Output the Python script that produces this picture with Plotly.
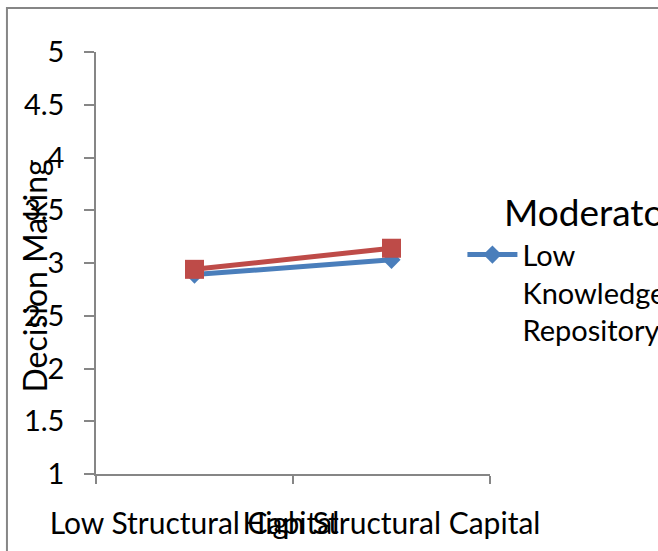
import plotly.graph_objects as go

# Interaction plot: Decision Making by Structural Capital, moderated by Knowledge Repository
categories = ["Low Structural Capital", "High Structural Capital"]
low_repo = [2.89, 3.03]
high_repo = [2.94, 3.14]
series_names = ["Low<br>Knowledge<br>Repository", "High<br>Knowledge<br>Repository"]
legend_title = "Moderator"
y_title = "Decision Making"

FONT = "Lato"
AXIS_GREY = "#868686"
BLUE = "#4A7EBB"
RED = "#BE4B48"

fig = go.Figure()
fig.add_trace(go.Scatter(
    x=categories, y=low_repo, name=series_names[0], mode="lines+markers",
    line=dict(color=BLUE, width=5),
    marker=dict(symbol="diamond", size=14, color=BLUE),
))
fig.add_trace(go.Scatter(
    x=categories, y=high_repo, name=series_names[1], mode="lines+markers",
    line=dict(color=RED, width=5),
    marker=dict(symbol="square", size=19, color=RED),
    showlegend=False,
))

fig.update_layout(
    width=658, height=551,
    margin=dict(l=96, r=168, t=52, b=77, autoexpand=False),
    paper_bgcolor="white", plot_bgcolor="white",
    font=dict(family=FONT, size=30, color="black"),
    showlegend=True,
    legend=dict(
        x=0.93, y=0.58, xanchor="left", yanchor="top",
        font=dict(size=29),
        valign="top",
        bgcolor="rgba(0,0,0,0)",
        itemwidth=50,
    ),
    xaxis=dict(
        type="category", range=[-0.5, 1.5],
        showline=True, linecolor=AXIS_GREY, linewidth=1.5,
        ticks="outside", tickson="boundaries", ticklen=8, tickcolor=AXIS_GREY,
        tickwidth=1.5, tickangle=0, ticklabelstandoff=22,
        showgrid=False, zeroline=False,
    ),
    yaxis=dict(
        range=[1, 5], dtick=0.5, tick0=1,
        showline=True, linecolor=AXIS_GREY, linewidth=1.5,
        ticks="outside", ticklen=10, tickcolor=AXIS_GREY, tickwidth=1.5,
        ticklabelstandoff=14, tickfont=dict(size=29),
        showgrid=False, zeroline=False,
    ),
    annotations=[
        dict(
            text=y_title, textangle=-90,
            xref="paper", yref="paper", x=-0.155, y=0.47,
            xanchor="center", yanchor="middle", showarrow=False,
            font=dict(size=32),
        ),
        dict(
            text=legend_title,
            xref="paper", yref="paper", x=1.031, y=0.621,
            xanchor="left", yanchor="middle", showarrow=False,
            font=dict(size=37),
        ),
    ],
    shapes=[dict(
        type="rect", xref="paper", yref="paper",
        x0=-0.226, x1=2.0, y0=-1.0, y1=1.104,
        line=dict(color=AXIS_GREY, width=2), layer="below",
    )],
)

fig.write_html("out.html")
